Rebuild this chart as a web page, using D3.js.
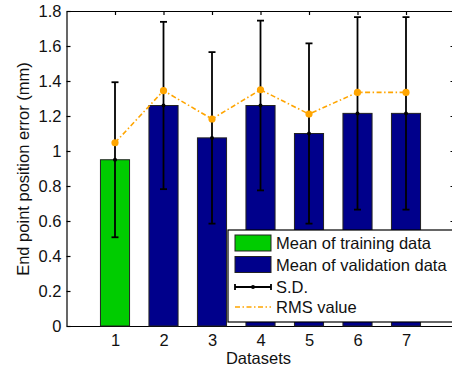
<!DOCTYPE html>
<html>
<head>
<meta charset="utf-8">
<script src="https://cdn.jsdelivr.net/npm/d3@7"></script>
<style>
  body { margin: 0; background: #fff; }
  text { font-family: "Liberation Sans", Arial, sans-serif; }
</style>
</head>
<body>
<svg id="chart"></svg>
<script>
// values
const datasets = [1, 2, 3, 4, 5, 6, 7];
const meanValues = [0.95, 1.26, 1.075, 1.26, 1.10, 1.215, 1.215];
const sdValues = [0.443, 0.478, 0.49, 0.485, 0.515, 0.55, 0.55];
const rmsValues = [1.047, 1.345, 1.183, 1.35, 1.211, 1.335, 1.335];
const yTicks = [0, 0.2, 0.4, 0.6, 0.8, 1, 1.2, 1.4, 1.6, 1.8];
const legendLabels = ["Mean of training data", "Mean of validation data", "S.D.", "RMS value"];

const width = 452;
const height = 368;
const fontSize = "16.5px";
const green = "#00cc00";
const navy = "#00008b";
const orange = "#ffa500";

const svg = d3.select("#chart")
    .attr("width", width)
    .attr("height", height);

const x = d3.scaleLinear().domain([0, 8]).range([66.5, 454.5]);
const y = d3.scaleLinear().domain([0, 1.8]).range([326, 11]);
const barW = x(0.6) - x(0);

// axes (ticks pointing inward, like matlab)
svg.append("g")
    .attr("transform", "translate(" + x(0) + ",0)")
    .call(d3.axisLeft(y).tickValues(yTicks).tickSizeInner(-4).tickSizeOuter(0).tickPadding(5)
        .tickFormat(d => String(Math.round(d * 10) / 10)));
svg.append("g")
    .attr("transform", "translate(" + x(8) + ",0)")
    .call(d3.axisRight(y).tickValues(yTicks).tickSizeInner(-4).tickSizeOuter(0).tickFormat(""));
svg.append("g")
    .attr("transform", "translate(0," + y(0) + ")")
    .call(d3.axisBottom(x).tickValues(datasets).tickSizeInner(-4).tickSizeOuter(0).tickPadding(8));
svg.append("g")
    .attr("transform", "translate(0," + y(1.8) + ")")
    .call(d3.axisTop(x).tickValues(datasets).tickSizeInner(-4).tickSizeOuter(0).tickFormat(""));

svg.selectAll(".tick text")
    .style("font-size", fontSize)
    .attr("fill", "#111");
svg.selectAll(".domain, .tick line").attr("stroke", "#000").attr("stroke-width", 1.2);

// bars
svg.selectAll(".bar")
    .data(datasets)
    .enter().append("rect")
    .attr("class", "bar")
    .attr("x", (d) => x(d) - barW / 2)
    .attr("y", (d, i) => y(meanValues[i]))
    .attr("width", barW)
    .attr("height", (d, i) => y(0) - y(meanValues[i]))
    .attr("fill", (d, i) => i === 0 ? green : navy)
    .attr("stroke", "#222")
    .attr("stroke-width", 1);

// error bars
const err = svg.selectAll(".err")
    .data(datasets)
    .enter().append("g")
    .attr("class", "err");
err.append("line")
    .attr("x1", d => x(d)).attr("x2", d => x(d))
    .attr("y1", (d, i) => y(meanValues[i] - sdValues[i]))
    .attr("y2", (d, i) => y(meanValues[i] + sdValues[i]));
err.append("line")
    .attr("x1", d => x(d) - 3.5).attr("x2", d => x(d) + 3.5)
    .attr("y1", (d, i) => y(meanValues[i] + sdValues[i]))
    .attr("y2", (d, i) => y(meanValues[i] + sdValues[i]));
err.append("line")
    .attr("x1", d => x(d) - 3.5).attr("x2", d => x(d) + 3.5)
    .attr("y1", (d, i) => y(meanValues[i] - sdValues[i]))
    .attr("y2", (d, i) => y(meanValues[i] - sdValues[i]));
err.selectAll("line").attr("stroke", "#000").attr("stroke-width", 1.8);
err.append("circle")
    .attr("cx", d => x(d))
    .attr("cy", (d, i) => y(meanValues[i]))
    .attr("r", 2)
    .attr("fill", "#000");

// rms line
const rmsLine = d3.line()
    .x(d => x(d))
    .y((d, i) => y(rmsValues[i]));
svg.append("path")
    .datum(datasets)
    .attr("d", rmsLine)
    .attr("fill", "none")
    .attr("stroke", orange)
    .attr("stroke-width", 1.6)
    .attr("stroke-dasharray", "5,2.5,1.5,2.5");
svg.selectAll(".rms")
    .data(datasets)
    .enter().append("circle")
    .attr("class", "rms")
    .attr("cx", d => x(d))
    .attr("cy", (d, i) => y(rmsValues[i]))
    .attr("r", 3.6)
    .attr("fill", orange);

// axis labels
svg.append("text")
    .attr("transform", "translate(29," + (y(0.9) + 0.5) + ") rotate(-90)")
    .attr("text-anchor", "middle")
    .style("font-size", fontSize)
    .attr("fill", "#111")
    .text("End point position error (mm)");
svg.append("text")
    .attr("x", 258.5)
    .attr("y", 364)
    .attr("text-anchor", "middle")
    .style("font-size", fontSize)
    .attr("fill", "#111")
    .text("Datasets");

// legend
const legend = svg.append("g").attr("transform", "translate(228,230)");
legend.append("rect")
    .attr("width", 240).attr("height", 92)
    .attr("fill", "#fff")
    .attr("stroke", "#000")
    .attr("stroke-width", 1.2);
const rowY = [13, 34.5, 57, 77];
legendLabels.forEach((label, i) => {
    const cy = rowY[i];
    if (i < 2) {
        legend.append("rect")
            .attr("x", 7).attr("y", cy - 8)
            .attr("width", 36).attr("height", 16)
            .attr("fill", i === 0 ? green : navy)
            .attr("stroke", "#222");
    } else if (i === 2) {
        legend.append("line").attr("x1", 7).attr("x2", 43).attr("y1", cy).attr("y2", cy);
        legend.append("line").attr("x1", 7).attr("x2", 7).attr("y1", cy - 3).attr("y2", cy + 3);
        legend.append("line").attr("x1", 43).attr("x2", 43).attr("y1", cy - 3).attr("y2", cy + 3);
        legend.selectAll("line").attr("stroke", "#000").attr("stroke-width", 1.8);
        legend.append("circle").attr("cx", 25).attr("cy", cy).attr("r", 2).attr("fill", "#000");
    } else {
        legend.append("line")
            .attr("x1", 7).attr("x2", 43).attr("y1", cy).attr("y2", cy)
            .attr("stroke", orange)
            .attr("stroke-width", 1.4)
            .attr("stroke-dasharray", "5,2.5,1.5,2.5");
    }
    legend.append("text")
        .attr("x", 48)
        .attr("y", cy + 6)
        .style("font-size", fontSize)
        .attr("fill", "#111")
        .text(label);
});
</script>
</body>
</html>
